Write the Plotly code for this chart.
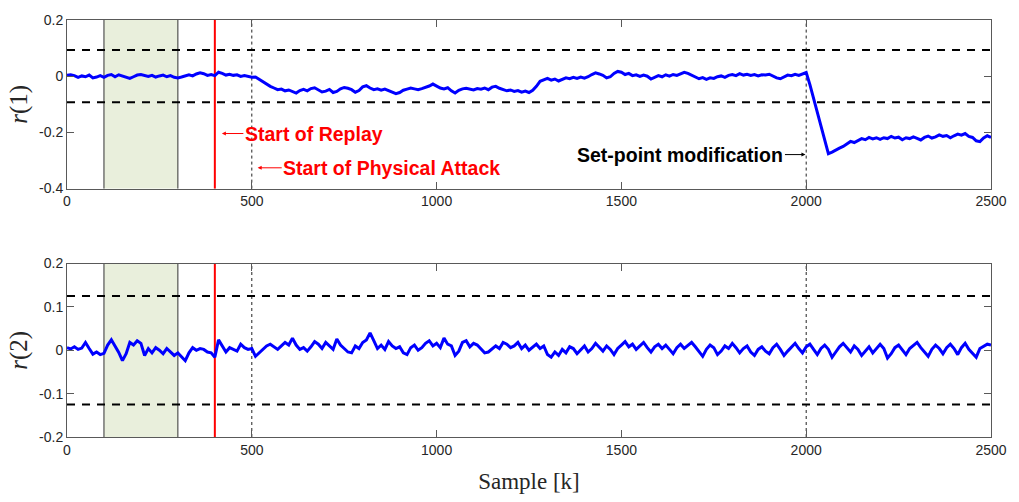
import numpy as np
import plotly.graph_objects as go

# ---------------- data ----------------
step = 10
samples = list(range(0, 2501, step))

r1 = [
    0.003, 0.005, 0.002, -0.004, 0.001, -0.002, 0.004, -0.006, -0.003, 0.002,
    -0.004, 0.003, 0.006, -0.002, 0.005, 0.001, -0.005, -0.008, -0.002, 0.004,
    0.006, 0.002, -0.001, 0.003, -0.003, 0.001, 0.004, -0.002, 0.002, -0.004,
    -0.006, -0.003, 0.002, 0.005, 0.001, 0.008, 0.012, 0.009, 0.003, 0.006,
    0.002, 0.014, 0.010, 0.004, 0.007, 0.003, 0.005, -0.001, 0.002, 0.000,
    -0.004, -0.003, -0.012, -0.020, -0.028, -0.036, -0.042, -0.048, -0.046, -0.052,
    -0.049, -0.055, -0.060, -0.051, -0.047, -0.052, -0.044, -0.041, -0.049, -0.056,
    -0.053, -0.047, -0.058, -0.054, -0.045, -0.040, -0.043, -0.048, -0.057, -0.051,
    -0.038, -0.034, -0.042, -0.048, -0.045, -0.050, -0.046, -0.051, -0.055, -0.062,
    -0.058, -0.050, -0.046, -0.042, -0.045, -0.048, -0.044, -0.040, -0.035, -0.028,
    -0.036, -0.042, -0.045, -0.041, -0.052, -0.060, -0.050, -0.045, -0.043, -0.047,
    -0.049, -0.044, -0.046, -0.042, -0.048, -0.039, -0.036, -0.043, -0.047, -0.052,
    -0.049, -0.054, -0.051, -0.057, -0.053, -0.058, -0.050, -0.036, -0.018, -0.012,
    -0.008, -0.014, -0.010, -0.017, -0.012, -0.006, -0.009, -0.004, -0.008, -0.003,
    -0.007, -0.002, 0.006, 0.012, 0.008, 0.003, -0.006, -0.002, 0.010, 0.017,
    0.014, 0.006, 0.010, 0.002, 0.005, -0.001, 0.004, 0.000, -0.010, -0.004,
    0.002, -0.002, 0.005, 0.000, 0.006, 0.003, 0.009, 0.014, 0.010, 0.004,
    -0.003, -0.009, -0.005, -0.011, -0.006, -0.008, -0.002, 0.001, -0.004, 0.003,
    0.006, 0.002, 0.009, 0.004, 0.007, 0.003, 0.006, 0.001, 0.005, 0.004,
    0.007, 0.000, -0.006, -0.009, -0.003, 0.004, 0.002, 0.007, 0.003, 0.008,
    0.013, -0.030, -0.080, -0.130, -0.180, -0.230, -0.276, -0.270, -0.262, -0.256,
    -0.250, -0.240, -0.232, -0.236, -0.228, -0.222, -0.226, -0.218, -0.223, -0.219,
    -0.225, -0.219, -0.222, -0.214, -0.220, -0.217, -0.226, -0.219, -0.222, -0.216,
    -0.221, -0.227, -0.218, -0.213, -0.220, -0.216, -0.209, -0.214, -0.211, -0.219,
    -0.212, -0.206, -0.210, -0.204, -0.214, -0.218, -0.230, -0.233, -0.220, -0.212,
    -0.218,
]

r2 = [
    0.006, 0.003, 0.008, 0.002, 0.005, 0.018, 0.004, -0.009, -0.004, -0.010,
    -0.007, 0.012, 0.024, 0.010, -0.005, -0.024, -0.008, 0.018, 0.012, 0.022,
    0.016, -0.012, 0.004, -0.006, 0.006, 0.000, -0.008, 0.004, -0.004, -0.012,
    -0.006, -0.014, -0.024, -0.006, 0.006, 0.000, 0.004, 0.002, -0.004, -0.006,
    -0.016, 0.024, 0.010, -0.004, 0.006, 0.002, -0.002, 0.014, 0.006, 0.002,
    0.004, -0.014, -0.006, 0.004, 0.010, 0.014, 0.008, 0.002, 0.010, 0.018,
    0.012, 0.028, 0.012, 0.002, 0.006, -0.002, 0.008, 0.020, 0.014, 0.004,
    0.018, 0.010, 0.002, 0.026, 0.012, 0.004, -0.004, -0.006, 0.010, 0.004,
    0.018, 0.024, 0.040, 0.022, 0.004, 0.012, 0.002, 0.020, 0.010, 0.004,
    0.008, -0.006, -0.010, 0.006, 0.012, 0.000, 0.006, 0.016, 0.022, 0.010,
    0.016, 0.006, 0.028, 0.014, 0.010, -0.012, -0.002, 0.018, 0.022, 0.008,
    0.016, 0.012, 0.004, -0.006, -0.004, 0.002, 0.010, 0.004, 0.018, 0.014,
    0.006, 0.010, 0.018, 0.004, 0.012, 0.000, 0.006, 0.014, 0.004, 0.010,
    -0.010, -0.016, -0.004, -0.012, 0.002, -0.006, 0.008, 0.004, -0.008, 0.002,
    0.010, -0.004, 0.004, 0.016, 0.006, -0.002, 0.010, 0.002, -0.010, 0.004,
    0.012, 0.020, 0.008, 0.014, 0.002, 0.010, 0.018, 0.006, -0.004, 0.008,
    0.014, 0.004, 0.012, 0.002, -0.008, 0.006, 0.014, 0.004, 0.010, 0.018,
    0.008, -0.004, -0.014, 0.002, 0.012, 0.006, -0.010, -0.002, 0.010, 0.004,
    0.016, 0.006, -0.006, 0.004, 0.010, -0.004, -0.012, 0.002, 0.008, -0.002,
    -0.008, 0.006, 0.014, 0.002, -0.012, -0.002, 0.008, 0.016, 0.004, -0.006,
    0.008, 0.014, 0.002, -0.010, 0.004, 0.012, 0.002, -0.016, -0.004, 0.008,
    0.016, 0.006, -0.004, 0.010, 0.002, -0.012, -0.002, 0.008, -0.006, 0.004,
    0.014, 0.004, -0.018, -0.008, 0.006, 0.012, 0.002, -0.010, 0.004, 0.010,
    0.018, 0.006, -0.004, -0.014, 0.002, 0.012, 0.004, -0.008, 0.006, 0.014,
    0.004, -0.010, 0.006, 0.016, 0.002, -0.008, -0.016, 0.004, 0.010, 0.014,
    0.012,
]

threshold1 = 0.093
threshold2 = 0.125
window_start, window_end = 100, 300
replay_start = 400
attack_start = 500
setpoint_change = 2000

x_ticks = [0, 500, 1000, 1500, 2000, 2500]
y1_ticks = [-0.4, -0.2, 0, 0.2]
y2_ticks = [-0.2, -0.1, 0, 0.1, 0.2]

# ---------------- figure ----------------
fig = go.Figure()
fig.add_trace(go.Scatter(x=samples, y=r1, mode="lines", xaxis="x", yaxis="y",
                         line=dict(color="#0000ff", width=3), showlegend=False))
fig.add_trace(go.Scatter(x=samples, y=r2, mode="lines", xaxis="x2", yaxis="y2",
                         line=dict(color="#0000ff", width=3), showlegend=False))

shapes = []
for xr, yr, thr in (("x", "y", threshold1), ("x2", "y2", threshold2)):
    yd = yr + " domain"
    shapes.append(dict(type="rect", xref=xr, yref=yd, x0=window_start, x1=window_end,
                       y0=0, y1=1, fillcolor="#e9efdc", line=dict(width=0), layer="below"))
    for xv in (window_start, window_end):
        shapes.append(dict(type="line", xref=xr, yref=yd, x0=xv, x1=xv, y0=0, y1=1,
                           line=dict(color="#333333", width=1), layer="below"))
    shapes.append(dict(type="line", xref=xr, yref=yd, x0=replay_start, x1=replay_start,
                       y0=0, y1=1, line=dict(color="#ff0000", width=2), layer="below"))
    for xv in (attack_start, setpoint_change):
        shapes.append(dict(type="line", xref=xr, yref=yd, x0=xv, x1=xv, y0=0, y1=1,
                           line=dict(color="#222222", width=1, dash="dot"), layer="below"))
    for yv in (thr, -thr):
        shapes.append(dict(type="line", xref=xr + " domain", yref=yr, x0=0, x1=1, y0=yv, y1=yv,
                           line=dict(color="#000000", width=2, dash="8px,7px")))

tick_font = dict(family="Liberation Sans, Arial, sans-serif", size=14, color="#262626")
title_font = dict(family="Liberation Serif, Times New Roman, serif", size=25, color="#262626")
xtitle_font = dict(family="Liberation Serif, Times New Roman, serif", size=23, color="#262626")
axis_common = dict(showgrid=False, zeroline=False, showline=True, linecolor="#595959",
                   linewidth=1, mirror="ticks", ticks="inside", ticklen=7,
                   tickcolor="#595959", tickfont=tick_font)

ann_font = dict(family="Liberation Sans, Arial, sans-serif", size=19.5)
annotations = [
    dict(x=replay_start + 19, y=-0.204, xref="x", yref="y", text="<b>Start of Replay</b>",
         showarrow=True, ax=92, ay=0, arrowhead=2, arrowsize=0.8, arrowwidth=1,
         arrowcolor="#ff0000", font=dict(color="#ff0000", **ann_font)),
    dict(x=attack_start + 16, y=-0.326, xref="x", yref="y", text="<b>Start of Physical Attack</b>",
         showarrow=True, ax=134, ay=0, arrowhead=2, arrowsize=0.8, arrowwidth=1,
         arrowcolor="#ff0000", font=dict(color="#ff0000", **ann_font)),
    dict(x=setpoint_change - 2, y=-0.279, xref="x", yref="y", text="<b>Set-point modification</b>",
         showarrow=True, ax=-125, ay=0, arrowhead=2, arrowsize=0.8, arrowwidth=1,
         arrowcolor="#000000", font=dict(color="#000000", **ann_font)),
]

fig.update_layout(
    width=1019, height=502,
    margin=dict(l=67, r=27, t=14, b=65),
    paper_bgcolor="white", plot_bgcolor="white",
    shapes=shapes, annotations=annotations,
    xaxis=dict(domain=[0, 1], anchor="y", range=[0, 2500], tickvals=x_ticks, **axis_common),
    yaxis=dict(domain=[0.5957, 1], anchor="x", range=[-0.4, 0.2], tickvals=y1_ticks,
               ticktext=["-0.4", "-0.2", "0", "0.2"],
               title=dict(text="<i>r</i>(1)", font=title_font, standoff=4), **axis_common),
    xaxis2=dict(domain=[0, 1], anchor="y2", range=[0, 2500], tickvals=x_ticks,
                title=dict(text="Sample [k]", font=xtitle_font, standoff=16), **axis_common),
    yaxis2=dict(domain=[0, 0.416], anchor="x2", range=[-0.2, 0.2], tickvals=y2_ticks,
                ticktext=["-0.2", "-0.1", "0", "0.1", "0.2"],
                title=dict(text="<i>r</i>(2)", font=title_font, standoff=4), **axis_common),
)

fig.write_html("out.html")
